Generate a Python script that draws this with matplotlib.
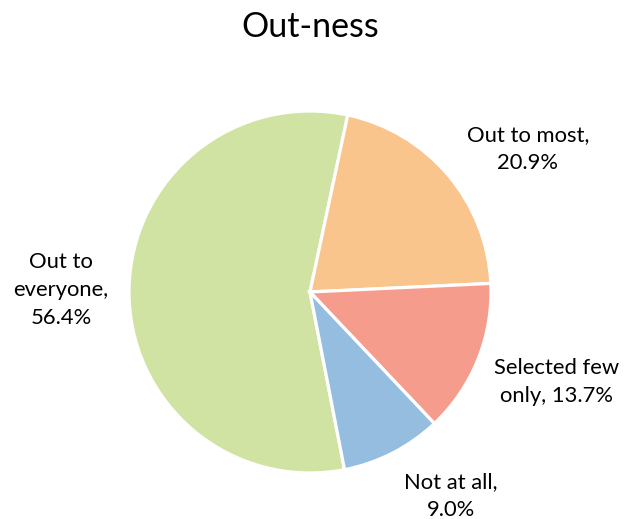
import matplotlib
matplotlib.use("Agg")
import matplotlib.pyplot as plt

# Survey shares
categories = ["Out to everyone", "Out to most", "Selected few only", "Not at all"]
shares = [56.4, 20.9, 13.7, 9.0]
colors = ["#D1E3A2", "#FAC48D", "#F59C8D", "#95BDE0"]

W, H = 632, 519
fig = plt.figure(figsize=(W / 100, H / 100), dpi=100)
ax = fig.add_axes([0, 0, 1, 1])

cx, cy, r = 310, H - 292, 181
wedges, _ = ax.pie(shares, colors=colors, startangle=-79, counterclock=False,
                   center=(cx, cy), radius=r, frame=True,
                   wedgeprops=dict(edgecolor="white", linewidth=2.3))
ax.set_xlim(0, W)
ax.set_ylim(0, H)
ax.set_aspect("equal")
ax.axis("off")

font = "Lato"
ax.text(W / 2 - 6, H - 27, "Out-ness", ha="center", va="center",
        fontsize=24.5, family=font)

label_text = ["Out to\neveryone,\n{:.1f}%", "Out to most,\n{:.1f}%",
              "Selected few\nonly, {:.1f}%", "Not at all,\n{:.1f}%"]
label_pos = [(61, 290), (528, 149), (557, 382), (451, 496)]
for txt, val, (x, y) in zip(label_text, shares, label_pos):
    ax.text(x, H - y, txt.format(val), ha="center", va="center",
            fontsize=15.8, family=font, linespacing=1.5)

fig.savefig("out.png", dpi=100)
